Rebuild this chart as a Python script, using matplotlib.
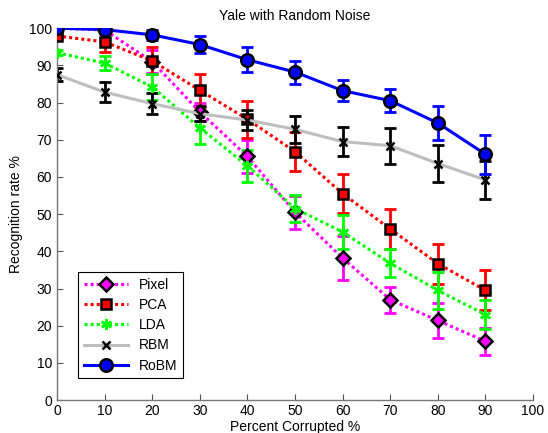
import matplotlib
matplotlib.use("Agg")
import matplotlib.pyplot as plt

plt.rcParams['font.family'] = ['Liberation Sans', 'DejaVu Sans']

# --- data ------------------------------------------------------------------
corrupt = [0, 10, 20, 30, 40, 50, 60, 70, 80, 90]

pixel = [100, 99.5, 91, 77.5, 65.5, 50.5, 38.2, 27.0, 21.4, 15.8]
pixel_err = [0.4, 0.8, 3.0, 2.5, 4.5, 4.5, 6.0, 3.5, 4.6, 3.7]

pca = [97.9, 96.3, 91.2, 83.3, 75.5, 66.8, 55.5, 46.0, 36.7, 29.5]
pca_err = [0.6, 2.6, 3.6, 4.4, 5.0, 5.3, 5.3, 5.5, 5.4, 5.4]

lda = [93.4, 90.6, 84.2, 73.2, 63.0, 51.5, 45.2, 36.8, 29.5, 23.0]
lda_err = [0.6, 1.8, 3.5, 4.4, 4.3, 3.6, 4.5, 3.7, 5.0, 4.0]

rbm = [87.5, 82.8, 79.7, 77.0, 75.3, 72.8, 69.5, 68.4, 63.6, 59.2]
rbm_err = [1.8, 2.7, 2.8, 2.0, 2.6, 3.7, 4.0, 4.8, 5.0, 5.2]

robm = [100, 99.6, 98.2, 95.6, 91.5, 88.2, 83.2, 80.5, 74.5, 66.1]
robm_err = [0.3, 0.5, 1.4, 2.3, 3.3, 3.1, 2.9, 3.1, 4.7, 5.2]

xticks = list(range(0, 101, 10))
yticks = list(range(0, 101, 10))

fig = plt.figure(figsize=(5.48, 4.33), dpi=100)
ax = fig.add_axes([0.104, 0.076, 0.8686, 0.859])

asterisk = (6, 2, 0)
dots = (0, (1, 1))
series = [
    ("Pixel", pixel, pixel_err, "#FF00FF", dots, "D", "#FF00FF", "k", 7, "#FF00FF"),
    ("PCA", pca, pca_err, "#FF0000", dots, "s", "#FF0000", "k", 7, "#FF0000"),
    ("LDA", lda, lda_err, "#00FF00", dots, asterisk, "#00FF00", "#00FF00", 8, "#00FF00"),
    ("RBM", rbm, rbm_err, "#BEBEBE", "-", "x", "k", "k", 6, "k"),
    ("RoBM", robm, robm_err, "#0000FF", "-", "o", "#0000FF", "k", 9, "#0000FF"),
]

for name, y, e, col, ls, mk, fc, ec, ms, ecol in series:
    ax.errorbar(corrupt, y, yerr=e, fmt="none", ecolor=ecol, elinewidth=2,
                capsize=4, capthick=2, zorder=2)
    ax.plot(corrupt, y, color=col, linestyle=ls, linewidth=2.2, marker=mk,
            markersize=ms, markerfacecolor=fc, markeredgecolor=ec,
            markeredgewidth=1.8, label=name, zorder=3)

ax.set_xlim(0, 100)
ax.set_ylim(0, 100)
ax.set_xticks(xticks)
ax.set_yticks(yticks)
ax.tick_params(direction="in", length=4, labelsize=10, color="#555555")
ax.tick_params(axis="x", pad=3)
for s in ("top", "right"):
    ax.spines[s].set_visible(False)
for s in ("left", "bottom"):
    ax.spines[s].set_color("#777777")
    ax.spines[s].set_linewidth(1.0)

ax.set_title("Yale with Random Noise", fontsize=10, pad=6)
ax.set_xlabel("Percent Corrupted %", fontsize=10, labelpad=1)
ax.set_ylabel("Recognition rate %", fontsize=10, labelpad=4)

leg = ax.legend(loc="lower left", bbox_to_anchor=(0.03, 0.04), fontsize=10,
                fancybox=False, edgecolor="k", framealpha=1, handlelength=3.2,
                borderpad=0.4, labelspacing=0.45)
leg.get_frame().set_linewidth(0.8)

fig.savefig("out.png", dpi=100)
